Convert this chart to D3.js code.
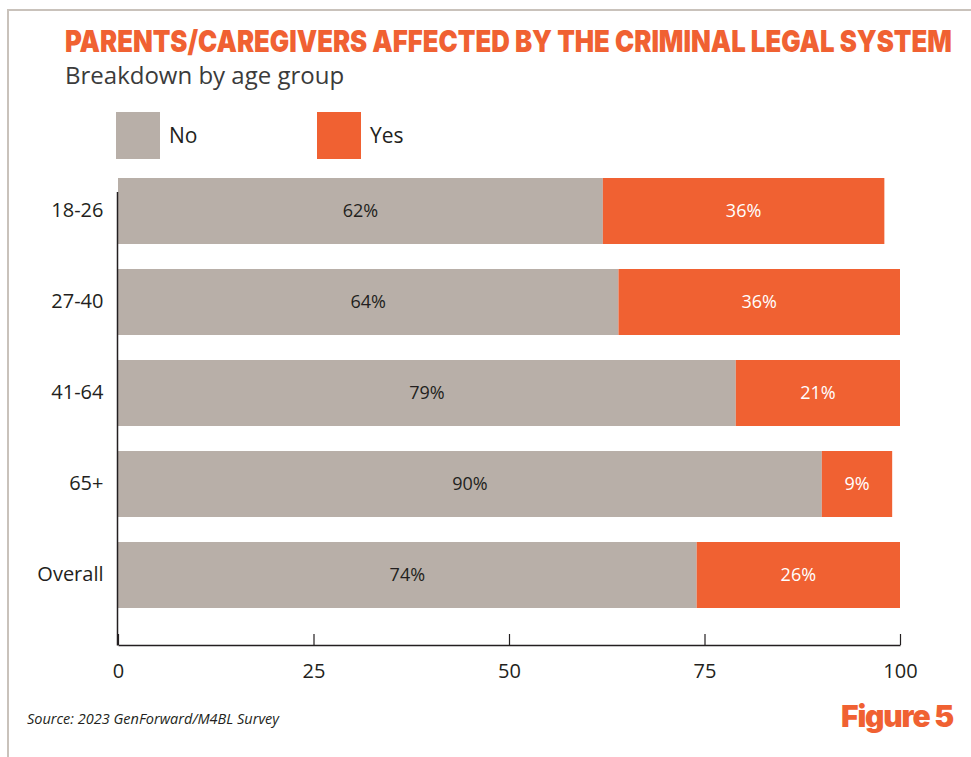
<!DOCTYPE html>
<html>
<head>
<meta charset="utf-8">
<script src="https://cdn.jsdelivr.net/npm/d3@7"></script>
<style>
  html, body { margin: 0; padding: 0; background: #fff; }
  svg { display: block; }
</style>
</head>
<body>
<svg id="chart" width="971" height="757"></svg>
<script>
// Age groups and the share of respondents answering No / Yes
const categories = ["18-26", "27-40", "41-64", "65+", "Overall"];
const noValues = [62, 64, 79, 90, 74];
const yesValues = [36, 36, 21, 9, 26];
const seriesNames = ["No", "Yes"];
const xTicks = [0, 25, 50, 75, 100];

const colors = { No: "#b8afa8", Yes: "#f06132" };
const bodyFont = "'Open Sans', Lato, sans-serif";

const svg = d3.select("#chart");

// Page frame (left and top rules)
svg.append("path")
  .attr("d", "M8,757 V10 H971")
  .attr("fill", "none")
  .attr("stroke", "#c9c2bb")
  .attr("stroke-width", 2);

// Title: heavy face squeezed horizontally into a condensed look
const titleWidth = 887;
const title = svg.append("text")
  .attr("x", 0).attr("y", 0)
  .attr("font-family", "Inter, 'DejaVu Sans', sans-serif")
  .attr("font-weight", 900)
  .attr("font-size", 30)
  .attr("fill", "#f06132")
  .text("PARENTS/CAREGIVERS AFFECTED BY THE CRIMINAL LEGAL SYSTEM");
const natural = title.node().getComputedTextLength();
title.attr("transform", `translate(65,52) scale(${titleWidth / natural},1)`);

svg.append("text")
  .attr("x", 65).attr("y", 84)
  .attr("font-family", bodyFont)
  .attr("font-size", 24)
  .attr("fill", "#3b3b3b")
  .text("Breakdown by age group");

// Legend
const legendX = d3.scalePoint().domain(seriesNames).range([116, 317]);
const legend = svg.append("g").selectAll("g")
  .data(seriesNames).join("g")
  .attr("transform", d => `translate(${legendX(d)},112)`);
legend.append("rect")
  .attr("width", 44).attr("height", 47)
  .attr("fill", d => colors[d]);
legend.append("text")
  .attr("x", 53).attr("y", 31)
  .attr("font-family", bodyFont)
  .attr("font-size", 21)
  .attr("fill", "#231f20")
  .text(d => d);

// Scales
const x = d3.scaleLinear().domain([0, 100]).range([118, 900]);
const y = d3.scaleBand().domain(categories).range([141, 645])
  .paddingInner(25 / 91).paddingOuter(0.4066);

const rows = categories.map((c, i) => ({ cat: c, No: noValues[i], Yes: yesValues[i] }));
const stacked = d3.stack().keys(seriesNames)(rows);

// Bars
const layers = svg.append("g").selectAll("g")
  .data(stacked).join("g")
  .attr("fill", d => colors[d.key]);

layers.selectAll("rect")
  .data(d => d.map(s => ({ key: d.key, s })))
  .join("rect")
  .attr("x", d => x(d.s[0]))
  .attr("y", d => y(d.s.data.cat))
  .attr("width", d => x(d.s[1]) - x(d.s[0]))
  .attr("height", y.bandwidth());

// Value labels centred in each segment
layers.selectAll("text")
  .data(d => d.map(s => ({ key: d.key, s })))
  .join("text")
  .attr("x", d => (x(d.s[0]) + x(d.s[1])) / 2)
  .attr("y", d => y(d.s.data.cat) + y.bandwidth() / 2)
  .attr("dy", "0.35em")
  .attr("text-anchor", "middle")
  .attr("font-family", bodyFont)
  .attr("font-size", 18)
  .attr("fill", d => d.key === "Yes" ? "#ffffff" : "#231f20")
  .text(d => `${d.s.data[d.key]}%`);

// X axis with ticks pointing up into the plot
const xAxis = svg.append("g")
  .attr("transform", "translate(0,645)")
  .call(d3.axisBottom(x).tickValues(xTicks).tickSize(-11).tickSizeOuter(0).tickPadding(16));
xAxis.select(".domain").attr("stroke", "#231f20").attr("stroke-width", 1.5);
xAxis.selectAll(".tick line").attr("stroke", "#231f20").attr("stroke-width", 1.2);
xAxis.selectAll(".tick text")
  .attr("font-family", bodyFont)
  .attr("font-size", 20)
  .attr("fill", "#231f20")
  .attr("dy", "0.85em");

// Y axis: category labels and a vertical rule
const yAxis = svg.append("g")
  .attr("transform", "translate(117.5,0)")
  .call(d3.axisLeft(y).tickSize(0).tickPadding(14));
yAxis.select(".domain").remove();
yAxis.selectAll(".tick text")
  .attr("font-family", bodyFont)
  .attr("font-size", 20)
  .attr("fill", "#231f20");
yAxis.append("line")
  .attr("x1", 0).attr("x2", 0)
  .attr("y1", 192).attr("y2", 645.5)
  .attr("stroke", "#231f20")
  .attr("stroke-width", 1.5);

// Footer
svg.append("text")
  .attr("x", 27).attr("y", 724)
  .attr("font-family", bodyFont)
  .attr("font-style", "italic")
  .attr("font-size", 14.5)
  .attr("fill", "#231f20")
  .text("Source: 2023 GenForward/M4BL Survey");

svg.append("text")
  .attr("x", 953).attr("y", 727)
  .attr("text-anchor", "end")
  .attr("font-family", "Inter, 'DejaVu Sans', sans-serif")
  .attr("font-weight", 900)
  .attr("font-size", 30)
  .attr("letter-spacing", -1.2)
  .attr("fill", "#f06132")
  .text("Figure 5");
</script>
</body>
</html>
